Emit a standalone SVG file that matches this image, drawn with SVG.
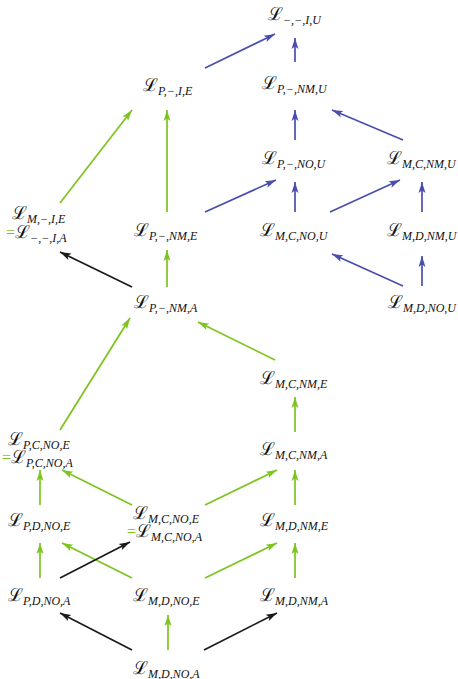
<svg xmlns="http://www.w3.org/2000/svg" width="458" height="679" viewBox="0 0 458 679">
<style>
text{font-family:"Liberation Serif","DejaVu Serif",serif;fill:#111}
.L{font-size:18px}
.s{font-size:12px;font-style:italic}
.eq{fill:#7dc41f;font-size:16px}
.g{stroke:#7dc41f;stroke-width:1.7;fill:none;marker-end:url(#ag)}
.b{stroke:#4a4fae;stroke-width:1.7;fill:none;marker-end:url(#ab)}
.k{stroke:#1a1a1a;stroke-width:1.7;fill:none;marker-end:url(#ak)}
</style>
<defs>
<marker id="ag" markerUnits="userSpaceOnUse" markerWidth="12" markerHeight="8" refX="11" refY="4" orient="auto"><path d="M0,0.5 L11,4 L0,7.5 L2.5,4 z" fill="#7dc41f"/></marker>
<marker id="ab" markerUnits="userSpaceOnUse" markerWidth="12" markerHeight="8" refX="11" refY="4" orient="auto"><path d="M0,0.5 L11,4 L0,7.5 L2.5,4 z" fill="#4a4fae"/></marker>
<marker id="ak" markerUnits="userSpaceOnUse" markerWidth="12" markerHeight="8" refX="11" refY="4" orient="auto"><path d="M0,0.5 L11,4 L0,7.5 L2.5,4 z" fill="#1a1a1a"/></marker>
</defs>
<g id="connectors">
<line class="b" x1="205" y1="68" x2="275" y2="34"/>
<line class="b" x1="295" y1="62" x2="295" y2="38"/>
<line class="b" x1="295" y1="140" x2="295" y2="110"/>
<line class="b" x1="403" y1="140" x2="332" y2="110"/>
<line class="b" x1="205" y1="212" x2="276" y2="180"/>
<line class="b" x1="295" y1="212" x2="295" y2="182"/>
<line class="b" x1="330" y1="212" x2="400" y2="180"/>
<line class="b" x1="422" y1="212" x2="422" y2="182"/>
<line class="b" x1="403" y1="286" x2="332" y2="254"/>
<line class="b" x1="422" y1="286" x2="422" y2="256"/>
<line class="g" x1="60" y1="203" x2="132" y2="110"/>
<line class="g" x1="167" y1="212" x2="167" y2="110"/>
<line class="g" x1="167" y1="287" x2="167" y2="250"/>
<line class="g" x1="275" y1="360" x2="198" y2="322"/>
<line class="g" x1="60" y1="430" x2="130" y2="318"/>
<line class="g" x1="295" y1="432" x2="295" y2="397"/>
<line class="g" x1="40" y1="505" x2="40" y2="470"/>
<line class="g" x1="132" y1="505" x2="62" y2="470"/>
<line class="g" x1="205" y1="505" x2="277" y2="470"/>
<line class="g" x1="295" y1="505" x2="295" y2="470"/>
<line class="g" x1="40" y1="578" x2="40" y2="543"/>
<line class="g" x1="132" y1="578" x2="62" y2="543"/>
<line class="g" x1="205" y1="578" x2="277" y2="543"/>
<line class="g" x1="295" y1="578" x2="295" y2="543"/>
<line class="g" x1="168" y1="650" x2="168" y2="615"/>
<line class="k" x1="132" y1="287" x2="60" y2="252"/>
<line class="k" x1="60" y1="578" x2="130" y2="542"/>
<line class="k" x1="132" y1="650" x2="60" y2="613"/>
<line class="k" x1="204" y1="650" x2="277" y2="613"/>
</g>
<g id="n_mmIU"><text x="268" y="20"><tspan class="L">ℒ</tspan><tspan class="s" dy="3.5">−,−,I,U</tspan></text></g>
<g id="n_PmIE"><text x="143" y="91"><tspan class="L">ℒ</tspan><tspan class="s" dy="3.5">P,−,I,E</tspan></text></g>
<g id="n_PmNMU"><text x="262" y="89"><tspan class="L">ℒ</tspan><tspan class="s" dy="3.5">P,−,NM,U</tspan></text></g>
<g id="n_PmNOU"><text x="262" y="164"><tspan class="L">ℒ</tspan><tspan class="s" dy="3.5">P,−,NO,U</tspan></text></g>
<g id="n_MCNMU"><text x="387" y="164"><tspan class="L">ℒ</tspan><tspan class="s" dy="3.5">M,C,NM,U</tspan></text></g>
<g id="n_MmIE"><text x="12" y="219"><tspan class="L">ℒ</tspan><tspan class="s" dy="3.5">M,−,I,E</tspan></text><text x="6" y="238"><tspan class="eq">=</tspan><tspan class="L">ℒ</tspan><tspan class="s" dy="3.5">−,−,I,A</tspan></text></g>
<g id="n_PmNME"><text x="134" y="236"><tspan class="L">ℒ</tspan><tspan class="s" dy="3.5">P,−,NM,E</tspan></text></g>
<g id="n_MCNOU"><text x="260" y="236"><tspan class="L">ℒ</tspan><tspan class="s" dy="3.5">M,C,NO,U</tspan></text></g>
<g id="n_MDNMU"><text x="387" y="236"><tspan class="L">ℒ</tspan><tspan class="s" dy="3.5">M,D,NM,U</tspan></text></g>
<g id="n_PmNMA"><text x="134" y="308"><tspan class="L">ℒ</tspan><tspan class="s" dy="3.5">P,−,NM,A</tspan></text></g>
<g id="n_MDNOU"><text x="388" y="308"><tspan class="L">ℒ</tspan><tspan class="s" dy="3.5">M,D,NO,U</tspan></text></g>
<g id="n_MCNME"><text x="260" y="384"><tspan class="L">ℒ</tspan><tspan class="s" dy="3.5">M,C,NM,E</tspan></text></g>
<g id="n_PCNOE"><text x="8" y="445"><tspan class="L">ℒ</tspan><tspan class="s" dy="3.5">P,C,NO,E</tspan></text><text x="2" y="463"><tspan class="eq">=</tspan><tspan class="L">ℒ</tspan><tspan class="s" dy="3.5">P,C,NO,A</tspan></text></g>
<g id="n_MCNMA"><text x="260" y="455"><tspan class="L">ℒ</tspan><tspan class="s" dy="3.5">M,C,NM,A</tspan></text></g>
<g id="n_PDNOE"><text x="8" y="526"><tspan class="L">ℒ</tspan><tspan class="s" dy="3.5">P,D,NO,E</tspan></text></g>
<g id="n_MCNOE"><text x="133" y="519"><tspan class="L">ℒ</tspan><tspan class="s" dy="3.5">M,C,NO,E</tspan></text><text x="127" y="537"><tspan class="eq">=</tspan><tspan class="L">ℒ</tspan><tspan class="s" dy="3.5">M,C,NO,A</tspan></text></g>
<g id="n_MDNME"><text x="260" y="526"><tspan class="L">ℒ</tspan><tspan class="s" dy="3.5">M,D,NM,E</tspan></text></g>
<g id="n_PDNOA"><text x="8" y="601"><tspan class="L">ℒ</tspan><tspan class="s" dy="3.5">P,D,NO,A</tspan></text></g>
<g id="n_MDNOE"><text x="133" y="601"><tspan class="L">ℒ</tspan><tspan class="s" dy="3.5">M,D,NO,E</tspan></text></g>
<g id="n_MDNMA"><text x="260" y="601"><tspan class="L">ℒ</tspan><tspan class="s" dy="3.5">M,D,NM,A</tspan></text></g>
<g id="n_MDNOA"><text x="133" y="674"><tspan class="L">ℒ</tspan><tspan class="s" dy="3.5">M,D,NO,A</tspan></text></g>
</svg>
